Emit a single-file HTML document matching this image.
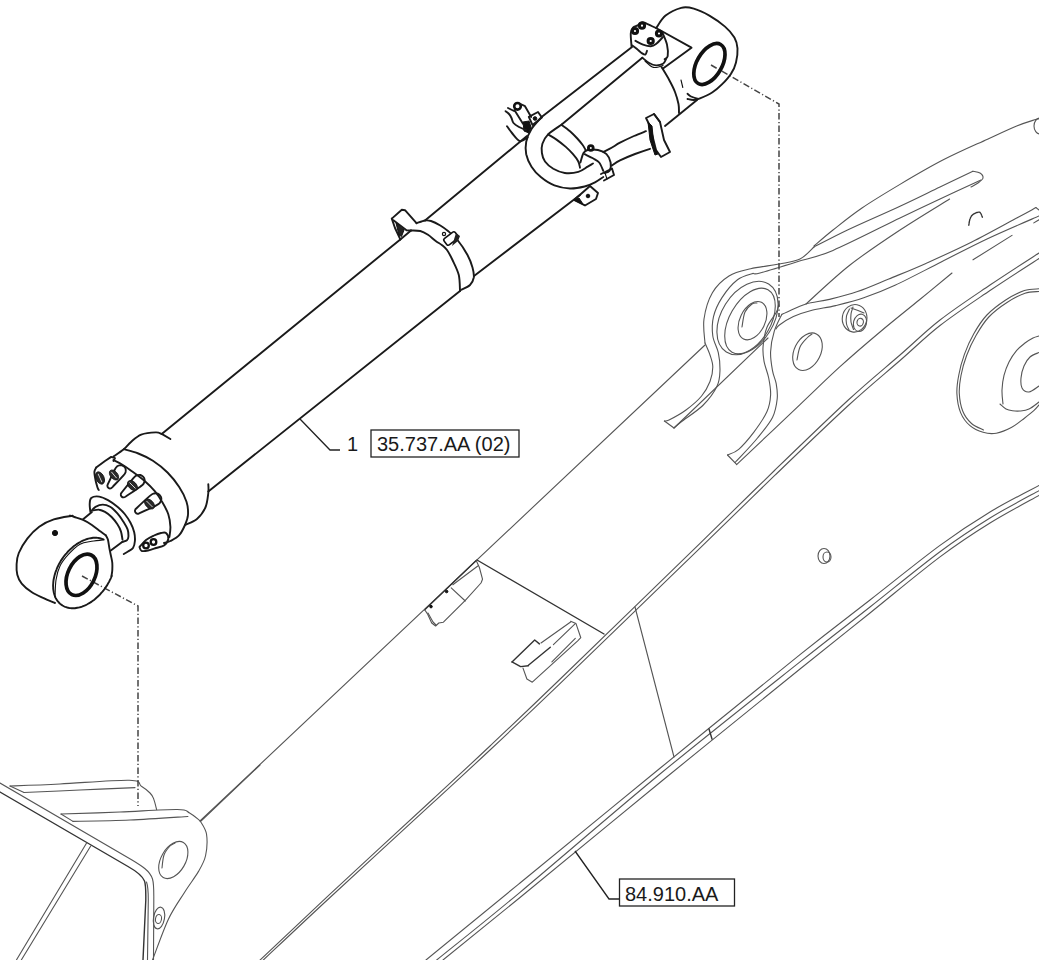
<!DOCTYPE html>
<html><head><meta charset="utf-8"><style>
html,body{margin:0;padding:0;background:#fff;}
body{width:1039px;height:960px;overflow:hidden;position:relative;}
svg{position:absolute;left:0;top:0;}
.c{fill:none;stroke:#1a1a1a;stroke-width:1.9;stroke-linejoin:round;stroke-linecap:round;}
.ct{fill:none;stroke:#111;stroke-width:1.1;stroke-linejoin:round;stroke-linecap:round;}
.ck{fill:none;stroke:#111;stroke-width:3.7;}
.cf{fill:#111;stroke:#111;stroke-width:1;}
.b{fill:none;stroke:#555;stroke-width:1.1;stroke-linejoin:round;stroke-linecap:round;}
.bd{fill:none;stroke:#333;stroke-width:1.4;stroke-linejoin:round;stroke-linecap:round;}
.dd{fill:none;stroke:#444;stroke-width:1.5;stroke-dasharray:6.5 2.4 1.2 2.4;}
.ld{fill:none;stroke:#222;stroke-width:1.3;}
.bx{fill:none;stroke:#222;stroke-width:1.3;}
.t{font-family:"Liberation Sans",sans-serif;font-size:20px;fill:#1a1a1a;}
</style></head><body>
<svg width="1039" height="960" viewBox="0 0 1039 960">
<path class="b" d="M200,821 L705,345"/>
<path class="b" d="M258,962 C270,950.7 300.8,921.4 330,894.2 C359.2,867 406.3,823.7 433,799 C459.7,774.3 469,765.8 490,746 C511,726.2 524.2,713.8 559.2,680 C594.2,646.2 664,578.3 700,543.3 C736,508.3 750.3,493.9 775,470 C799.7,446.1 827.5,419.2 848.3,400 C869.1,380.8 884.7,368.3 900,355 C915.3,341.7 925,331.7 940,320 C955,308.3 973.5,296.2 990,285 C1006.5,273.8 1030.8,258.3 1039,253"/>
<path class="b" d="M258,965 C270,953.8 300.8,924.5 330,897.5 C359.2,870.5 406.3,827.3 433,802.7 C459.7,778.1 469,769.7 490,750 C511,730.3 524.2,717.9 559.2,684.3 C594.2,650.7 664,583.1 700,548.2 C736,513.4 750.3,499 775,475.2 C799.7,451.4 827.5,424.6 848.3,405.5 C869.1,386.4 884.7,373.8 900,360.5 C915.3,347.2 925,337.2 940,325.5 C955,313.8 973.5,301.7 990,290.5 C1006.5,279.3 1030.8,263.8 1039,258.5"/>
<path class="bd" d="M477,560 L604,634"/>
<path class="b" d="M635,607 L674,757"/>
<path class="b" d="M426,960 C441.7,947.2 481,915 520,883 C559,851 613.3,806.4 660,768.3 C706.7,730.2 765,682.6 800,654.6 C835,626.6 846.7,618.2 870,600 C893.3,581.8 920,560.1 940,545.4 C960,530.7 973.5,522 990,512 C1006.5,502 1030.8,489.9 1039,485.5"/>
<path class="b" d="M436.7,960 C450.6,948.7 482.8,923.3 520,892.3 C557.2,861.3 613.3,812.4 660,774 C706.7,735.6 765,689.7 800,661.9 C835,634.1 846.7,625.4 870,607 C893.3,588.6 920,566.5 940,551.7 C960,536.9 973.5,528.2 990,518 C1006.5,507.8 1030.8,495.2 1039,490.7"/>
<path class="b" d="M443,960 C455.8,949.6 483.3,927.5 520,897.5 C556.7,867.5 616.3,818.1 663,780 C709.7,741.9 765.5,696.8 800,669 C834.5,641.2 846.7,631.7 870,613 C893.3,594.3 920,571.9 940,556.9 C960,541.9 973.5,533.2 990,523 C1006.5,512.8 1030.8,500 1039,495.4"/>
<path class="bd" d="M709,729 L712,739"/>
<path class="b" d="M705,343 C704.8,339 702.8,327.4 704,319 C705.2,310.6 708.2,300 712.4,292.8 C716.6,285.6 722.6,280 729,276 C735.4,272 742.3,270.8 750.7,268.8 C759.1,266.8 771.3,265.6 779.5,264 C787.7,262.4 794.2,261.8 800,259 C805.8,256.2 811.7,249 814,247"/>
<path class="b" d="M705,343 C705.8,345 708.7,351 710,355 C711.3,359 712.8,362.6 712.8,367 C712.8,371.4 711.9,376.7 710,381.5 C708.1,386.3 705.6,391.2 701.6,396 C697.6,400.8 691.4,406 686,410 C680.6,414 672.6,418.2 669,420 C665.4,421.8 665.2,420.8 664.4,421"/>
<path class="b" d="M753,273.4 C750.4,274.4 742.7,275.7 737.5,279.7 C732.3,283.7 726,291.4 722,297.6 C718,303.8 715,310.3 713.5,316.7 C712,323.1 712,330 712.8,336 C713.6,342 717.1,347.1 718.3,352.7 C719.5,358.3 720.2,363.9 720,369.5 C719.8,375.1 719.9,380.3 717,386.3 C714.1,392.3 708.8,399.6 702.8,405.5 C696.8,411.4 685.8,418.2 681,422 C676.2,425.8 675.2,427 674,428"/>
<path class="b" d="M664.4,421 L674,428"/>
<path class="b" d="M768,338 L674,428"/>
<ellipse class="b" cx="747.5" cy="318" rx="26" ry="40" transform="rotate(32 747.5 318)"/>
<ellipse class="b" cx="750" cy="321" rx="20.5" ry="36" transform="rotate(30 750 321)"/>
<ellipse class="b" cx="752.5" cy="320.7" rx="12.6" ry="20.4" transform="rotate(26 752.5 320.7)"/>
<path class="b" d="M742,327 C742.5,324.5 743.3,315.8 745,312 C746.7,308.2 750,305.5 752,304 C754,302.5 756.2,303.2 757,303"/>
<path class="b" d="M814,246 C817.2,243.3 825,236.3 833,230 C841,223.7 850.8,215.6 862,208 C873.2,200.4 886.4,192.5 900,184.4 C913.6,176.3 929.2,167.1 943.8,159.6 C958.3,152.1 975.3,144.8 987.5,139.2 C999.7,133.6 1008.7,129.3 1016.7,126 C1024.7,122.7 1031.9,120.7 1035.6,119.5 C1039.3,118.3 1038.4,119.1 1039,119"/>
<ellipse class="b" cx="1040" cy="126" rx="6" ry="8" transform="rotate(0 1040 126)"/>
<path class="b" d="M814,247 C819.6,244.2 833.2,236.8 847.5,230 C861.8,223.2 884.6,213.4 900,206.2 C915.4,199.1 927.9,192.8 940,187 C952.1,181.2 967.4,173.9 972.9,171.2"/>
<path class="b" d="M972.9,171.2 C974.1,171.5 978.3,171.9 980,173 C981.7,174.1 983.3,176.3 983,178 C982.7,179.7 980,181.5 978,183 C976,184.5 972.2,186.3 971,187"/>
<path class="b" d="M753,273.4 C754.2,273.3 752.8,274.9 760,273 C767.2,271.1 784.3,265.8 796.5,262 C808.7,258.2 815.8,257.7 833,250.4 C850.2,243.1 882.2,226.6 900,218 C917.8,209.4 926.5,205.3 940,199 C953.5,192.7 974.2,183.2 981,180"/>
<path class="b" d="M806,304 C813.3,297.5 834.3,277.3 850,265 C865.7,252.7 883.4,241 900,230 C916.6,219 941.3,204.2 949.6,199"/>
<path class="bd" d="M968.8,225.2 C969,224.2 969.3,220.8 970,219 C970.7,217.2 971.4,215.6 973,214.5 C974.6,213.4 977.9,211.7 979.5,212.2 C981.1,212.7 982,216.6 982.5,217.5" stroke-width="2" stroke-dasharray="1.5 0.8"/>
<path class="b" d="M781.8,314.4 C782.7,314 783.2,313.6 787.2,311.9 C791.2,310.2 799,306.1 806,304 C813,301.9 820.8,301.5 829.4,299.4 C838,297.3 847.6,295 857.5,291.6 C867.4,288.2 877.4,283.7 888.8,279 C900.1,274.3 912.1,269.6 925.9,263.4 C939.7,257.2 956.5,249.7 971.8,242 C987.1,234.3 1007,223.2 1017.7,217.5 C1028.4,211.8 1033,209.2 1036,207.6"/>
<path class="b" d="M1036,207.6 L1039,210"/>
<path class="b" d="M1033.8,222.9 L1039,219.8"/>
<path class="b" d="M776,329 C776.6,328.3 776.5,327.1 779.4,325 C782.3,322.9 788,319.1 793.4,316.6 C798.8,314.2 805,312.1 812,310.3 C819,308.5 827,307.7 835.6,305.6 C844.2,303.5 853.9,301.2 863.8,297.8 C873.6,294.4 882.1,291.3 895,285.3 C907.9,279.3 925.9,269.7 941.2,262 C956.5,254.3 970.7,246.7 987,239 C1003.3,231.3 1030.3,219.8 1039,216"/>
<path class="b" d="M973,259.8 L1012,235.4"/>
<path class="b" d="M779,305 C778.5,306.2 778.2,308.8 776.2,312.5 C774.2,316.2 769.1,321.9 766.9,327.5 C764.7,333.1 763.6,340.6 763.1,346.2 C762.6,351.8 763.1,355.9 764,361.2 C764.9,366.5 767.6,372.4 768.7,378 C769.8,383.6 770.9,389.4 770.6,395 C770.3,400.6 769.7,405.6 766.9,411.8 C764.1,418 758.4,426.1 753.7,432.4 C749,438.6 743.1,445.5 738.7,449.3 C734.3,453.1 729.4,454.1 727.5,455"/>
<path class="b" d="M781.8,314.4 C780.5,317.2 776.2,325 774.3,331.2 C772.4,337.4 770.9,345.2 770.6,351.8 C770.3,358.4 771.6,365.3 772.5,370.6 C773.4,375.9 775.4,379 776.2,383.7 C777,388.4 777.8,393.1 777.2,398.7 C776.6,404.3 775.8,410.8 772.5,417.4 C769.2,423.9 763.1,431.1 757.5,438 C751.9,444.9 742.5,454.6 738.7,458.7 C735,462.8 735.6,461.8 735,462.4"/>
<path class="b" d="M727.5,455 L736.6,464.4"/>
<path class="b" d="M736.6,464.6 C747.2,454.6 782.8,420.9 800,404.6 C817.2,388.3 826.7,378.8 840,366.7 C853.3,354.6 866.8,343.1 880,332 C893.2,320.9 907.2,309.8 919.2,300 C931.2,290.2 946.5,277.5 952,273"/>
<ellipse class="b" cx="807.5" cy="351.7" rx="13.2" ry="19.9" transform="rotate(26.5 807.5 351.7)"/>
<path class="b" d="M797,360 C797.5,357.8 798.3,350.7 800,347 C801.7,343.3 805,340.2 807,338 C809,335.8 811.2,334.7 812,334"/>
<ellipse class="b" cx="854.6" cy="318.3" rx="12.3" ry="13.8" transform="rotate(10 854.6 318.3)"/>
<ellipse class="b" cx="860" cy="322.8" rx="6.5" ry="8.8" transform="rotate(15 860 322.8)"/>
<ellipse class="b" cx="860.2" cy="322.2" rx="3.2" ry="3.9" transform="rotate(10 860.2 322.2)"/>
<path class="b" d="M849.5,309 C849,310.2 847,313.5 846.5,316 C846,318.5 846.1,321.7 846.5,324 C846.9,326.3 848.6,329 849,330"/>
<path class="b" d="M853,307 C852.7,308.2 851.3,311.5 851,314 C850.7,316.5 850.6,319.4 851,322 C851.4,324.6 853.1,328.2 853.5,329.5"/>
<path class="b" d="M851,308 L858,310.5 L864,313"/>
<path class="b" d="M1039,288.8 C1036.6,289.1 1030,288.7 1024.4,290.6 C1018.9,292.5 1012,295.9 1005.7,300 C999.5,304.1 992.2,309.4 986.9,315 C981.6,320.6 977.5,327.2 973.8,333.8 C970,340.4 966.9,347.5 964.4,354.4 C961.9,361.3 960,368.4 958.8,375 C957.5,381.6 956.6,387.5 956.9,393.8 C957.2,400.1 958.4,407.3 960.6,412.6 C962.8,417.9 966.2,422.4 970,425.7 C973.8,429 978.7,431.1 983.1,432.3 C987.5,433.6 991.6,434 996.3,433.2 C1001,432.4 1006.6,430.1 1011.3,427.6 C1016,425.1 1020.7,421 1024.4,418.2 C1028.2,415.4 1031.4,412.9 1033.8,410.7 C1036.2,408.5 1038.1,405.9 1039,405"/>
<path class="b" d="M1039,291.5 C1036.7,291.8 1030.3,291.5 1025,293.3 C1019.7,295.1 1013,298.6 1007,302.5 C1001,306.4 994,311.5 988.8,317 C983.6,322.5 979.7,329.1 976,335.5 C972.3,341.9 969.1,348.8 966.6,355.5 C964.1,362.2 962.2,369.2 961,375.5 C959.8,381.8 959,387.5 959.3,393.5 C959.6,399.5 960.8,406.3 962.8,411.3 C964.8,416.3 968,420.4 971.5,423.5 C975,426.6 981.5,428.9 983.5,430"/>
<path class="b" d="M1003,404 C1002.8,401.7 1001.8,394.8 1002,390 C1002.2,385.2 1002.8,380.1 1004,375.4 C1005.2,370.7 1006.9,366.2 1009,362 C1011.1,357.8 1014,353.6 1016.7,350.4 C1019.4,347.2 1022.3,345.1 1025,343 C1027.7,340.9 1030.7,339.2 1033,338 C1035.3,336.8 1038,336.3 1039,336"/>
<path class="b" d="M1000,404 C1001,404.8 1003.9,407.9 1006,409 C1008.1,410.1 1010.2,410.5 1012.5,410.8 C1014.8,411.1 1017.2,411.3 1020,411 C1022.8,410.7 1025.8,410.5 1029,409 C1032.2,407.5 1037.3,403.2 1039,402"/>
<path class="b" d="M1039,352.5 C1037.5,353.2 1032.5,354.8 1030,357 C1027.5,359.2 1025.5,362.5 1024,366 C1022.5,369.5 1021.3,374.3 1021,378 C1020.7,381.7 1020.7,385.7 1022,388 C1023.3,390.3 1026.2,392.3 1029,392 C1031.8,391.7 1037.3,387 1039,386"/>
<ellipse class="b" cx="824" cy="556" rx="6" ry="7.5" transform="rotate(0 824 556)"/>
<ellipse class="b" cx="827" cy="557" rx="4" ry="5" transform="rotate(0 827 557)"/>
<path class="bd" d="M424.7,609.7 L476.2,560.5"/>
<path class="b" d="M476.2,560.5 L479.4,567.5 L482.5,579.2 L481,583 L465.3,600.3 L443.4,622.2 L438.8,623 L435.6,626 L431.7,623 L427.8,614.4 L424.7,609.7"/>
<path class="b" d="M451.2,587.8 L465.3,601"/>
<path class="b" d="M452.8,584.7 L477.8,566"/>
<path class="b" d="M428,613 L433,622 L436,625"/>
<circle class="cf" cx="446.6" cy="591.5" r="1.3"/>
<circle class="cf" cx="431" cy="606.6" r="1.3"/>
<path class="bd" d="M512,661.9 L534.7,640 L539.4,643.9"/>
<path class="bd" d="M512,661.9 L520.6,666.6 L528.4,665.8"/>
<path class="bd" d="M528.4,665.3 L550.3,647.3"/>
<path class="b" d="M541,643 L570.6,622"/>
<path class="b" d="M553.4,644.7 L575.3,623.6"/>
<path class="b" d="M570.6,621.2 L576,623.6 L580.8,637.7 L577.7,640.8 L532.3,682.2 L526.9,679 L523,668.1"/>
<path class="b" d="M551.9,661.9 L575.3,638.4"/>
<path class="b" d="M201,821 L260,765"/>
<path class="b" d="M10,786 C18.3,785.7 40.1,785 60,784 C79.9,783 115.7,779.8 129.3,780.2 C142.9,780.6 138,784.2 141.4,786.3 C144.8,788.4 148,791 150,793 C152,795 152.4,795.6 153.5,798.4 C154.6,801.1 156.1,807.6 156.6,809.5"/>
<path class="b" d="M24,792.5 C33.3,792.1 61.5,790.8 80,790 C98.5,789.2 125.8,788 135,787.6"/>
<path class="b" d="M10,786 L24,792.5"/>
<path class="b" d="M61,814 C70.8,813.7 100.6,812.8 120,812 C139.4,811.2 165.7,809.3 177.3,809.5 C188.9,809.7 185.8,811.1 189.6,813 C193.4,814.9 198.5,819.7 200.3,821"/>
<path class="b" d="M73,821.4 C82.5,821.2 110.8,820.8 130,820 C149.2,819.2 178.2,817.1 187.9,816.5"/>
<path class="b" d="M61,814 L73,821.4"/>
<path class="b" d="M200.3,821 C201.3,823.2 205.6,828.2 206.5,834 C207.4,839.8 206.9,849.3 205.6,855.5 C204.3,861.7 202.1,865.2 198.5,871.4 C194.9,877.6 189.3,884.7 184.3,892.7 C179.3,900.7 173.7,908 168.4,919.2 C163.1,930.4 155.2,953.2 152.5,960"/>
<ellipse class="b" cx="173.3" cy="860" rx="12.2" ry="20.2" transform="rotate(30 173.3 860)"/>
<path class="b" d="M162,868 C162.3,865.8 162.7,858.7 164,855 C165.3,851.3 168.2,848 170,846 C171.8,844 174.2,843.5 175,843"/>
<path class="b" d="M0,783 L132,860 C142,866 150,871 152.5,879 C154,884 153.8,890 153.8,900 L153.5,960"/>
<path class="bd" d="M0,792 L128,866.5 C136,871 142,875 144.5,881 C146,885 145.8,890 145.8,900 L143,960"/>
<path class="b" d="M146.5,882 C148,886 148.3,892 148.3,900 L147.5,960"/>
<path class="b" d="M86.6,843 L16.4,960"/>
<path class="b" d="M90.7,846 L21.3,960"/>
<ellipse class="b" cx="159" cy="918" rx="5.5" ry="11" transform="rotate(10 159 918)"/>
<ellipse class="b" cx="158.5" cy="919" rx="3" ry="4.5" transform="rotate(10 158.5 919)"/>
<path class="dd" d="M711,65 L779,104 L779,317"/>
<path class="dd" d="M82,576 L138,606 L138,806"/>
<path class="c" d="M72.7,515.7 C69.5,516.3 59.4,517.6 53.8,519.4 C48.2,521.2 43.6,523.5 39.2,526.7 C34.8,529.9 30.9,534 27.5,538.4 C24.1,542.8 20.6,548.6 18.8,553 C16.9,557.4 16.8,561 16.6,564.6 C16.4,568.2 16.5,571.6 17.3,574.8 C18.1,578 19.3,580.7 21.7,583.6 C24.1,586.5 28.2,589.9 31.9,592.3 C35.5,594.7 39.8,596.4 43.6,598.2 C47.5,600 53.1,602.2 55,603"/>
<path class="c" d="M70,515.5 C70.7,515.8 72.2,516.3 74.4,517 C76.6,517.7 80.2,518.6 83.1,519.9 C86,521.2 89,523 91.9,525 C94.8,527 98.3,529.9 100.6,531.6 C102.9,533.3 104.8,534.6 105.7,535.2" stroke-width="2.2"/>
<path class="c" d="M111.7,575.9 L111.2,577.3 L110.6,578.7 L109.9,580 L109.3,581.4 L108.5,582.7 L107.8,584.1 L107,585.4 L106.2,586.6 L105.3,587.9 L104.4,589.2 L103.5,590.4 L102.5,591.6 L101.5,592.7 L100.5,593.9 L99.5,595 L98.4,596 L97.3,597.1 L96.2,598 L95.1,599 L94,599.9 L92.8,600.8 L91.7,601.6 L90.5,602.4 L89.3,603.1 L88.1,603.8 L86.9,604.5 L85.7,605.1 L84.5,605.6 L83.2,606.1 L82,606.6 L80.8,607 L79.6,607.3 L78.4,607.6 L77.2,607.8 L76.1,608 L74.9,608.2 L73.7,608.2 L72.6,608.3 L71.5,608.2 L70.4,608.1 L69.3,608 L68.3,607.8 L67.2,607.5 L66.2,607.2 L65.2,606.9 L64.3,606.5 L63.4,606 L62.5,605.5 L61.6,604.9 L60.8,604.3 L60,603.7 L59.3,603 L58.6,602.2 L57.9,601.4 L57.3,600.6 L56.7,599.7 L56.1,598.8 L55.6,597.8 L55.2,596.8 L54.8,595.8 L54.4,594.7 L54.1,593.6 L53.8,592.4 L53.6,591.3 L53.4,590.1 L53.2,588.9 L53.2,587.6 L53.1,586.3 L53.1,585 L53.2,583.7 L53.3,582.4 L53.4,581.1 L53.6,579.7 L53.9,578.3 L54.2,577 L54.5,575.6 L54.9,574.2 L55.3,572.8 L55.8,571.4 L56.3,570.1 L56.8,568.7 L57.4,567.3 L58.1,566 L58.7,564.6 L59.5,563.3 L60.2,561.9 L61,560.6 L61.8,559.4 L62.7,558.1 L63.6,556.8 L64.5,555.6 L65.5,554.4 L66.5,553.3 L67.5,552.1 L68.5,551 L69.6,550 L70.7,548.9 L71.8,548 L72.9,547 L74,546.1 L75.2,545.2 L76.3,544.4 L77.5,543.6 L78.7,542.9 L79.9,542.2 L81.1,541.5 L82.3,540.9 L83.5,540.4 L84.8,539.9 L86,539.4 L87.2,539 L88.4,538.7 L89.6,538.4 L90.8,538.2 L91.9,538 L93.1,537.8 L94.3,537.8 L95.4,537.7 L96.5,537.8 L97.6,537.9 L98.7,538 L99.7,538.2 L100.8,538.5 L101.8,538.8 L102.8,539.1 L103.7,539.5"/>
<path class="ct" d="M55,597 C55.2,594.2 55.2,585.2 56,580 C56.8,574.8 57.9,570.3 60,566 C62.1,561.7 65.1,558 68.4,554.4 C71.7,550.8 76.1,546.4 80,544.2 C83.9,542 87.8,542 91.7,541.3 C95.6,540.6 101.5,540 103.4,539.8"/>
<ellipse class="ck" cx="81.5" cy="574.8" rx="13.5" ry="22" transform="rotate(26 81.5 574.8)"/>
<circle class="cf" cx="55" cy="533" r="2.6"/>
<path class="c" d="M105.7,535.2 C106.1,535.9 107.3,537.4 107.9,539.6 C108.5,541.8 108.9,545.7 109.4,548.4 C109.9,551.1 110.5,553.6 111,556 C111.5,558.4 112.1,560.7 112.3,563 C112.5,565.3 112.4,567.8 112.3,570 C112.2,572.2 111.6,575 111.5,576"/>
<path class="c" d="M83.1,519.2 L91.9,511.9"/>
<path class="c" d="M110.8,550.5 L122.5,541.8"/>
<path class="c" d="M91.9,510.4 C92.5,509.8 93.7,507.8 95.5,506.8 C97.3,505.8 100.4,504.6 102.8,504.6 C105.2,504.6 107.7,505.4 110.1,506.8 C112.5,508.2 115.2,510.9 117.4,513.3 C119.6,515.7 121.5,518.7 123.2,521.4 C124.9,524.1 126.7,526.8 127.6,529.4 C128.5,532 128.5,534.9 128.4,536.7 C128.3,538.5 127.9,539.4 126.9,540.3 C125.9,541.1 123.2,541.5 122.5,541.8"/>
<path class="c" d="M93.3,510.4 C94.3,510.3 97.2,509.4 99.2,509.7 C101.2,509.9 102.9,510.7 105,511.9 C107.1,513.1 109.5,514.9 111.6,517 C113.7,519.1 115.8,521.9 117.4,524.3 C119,526.7 120.2,529 121,531.6 C121.8,534.2 122.2,538.3 122.5,539.6"/>
<path class="c" d="M90.4,511.9 C90.3,510.7 89.6,506.9 89.7,504.6 C89.8,502.3 89.6,499.3 91.2,498 C92.8,496.7 96.4,496.2 99.2,496.6 C102,497 105,498.5 108,500.2 C111,501.9 114.6,504.5 117.4,506.8 C120.2,509.1 122.5,511.3 124.7,514 C126.9,516.7 128.9,519.8 130.5,522.8 C132.1,525.8 133.5,529.3 134.2,532.3 C134.9,535.3 135.1,538.4 134.9,541 C134.7,543.6 134.2,546.2 133,548 C131.8,549.8 129.5,550.5 128,551.5 C126.5,552.5 124.5,553.6 123.8,554"/>
<path class="c" d="M121.5,496.5 C121,496 120.7,495 120.8,494.2 C120.9,493.5 120.1,494.6 122.1,492 C124.2,489.3 130.8,481.1 133.2,478.3 C135.6,475.6 135.4,476 136.7,475.4 C137.9,474.9 139.4,474.8 140.4,475 C141.5,475.2 142.4,476 143.1,476.7 C143.8,477.5 144.5,478.5 144.6,479.6 C144.7,480.7 144.5,482.1 143.8,483.3 C143.2,484.4 143.6,484.3 140.6,486.4 C137.7,488.6 128.9,494.4 126.1,496.3 C123.2,498.1 124.4,497.4 123.7,497.4 C122.9,497.4 122,497 121.5,496.5Z"/>
<path class="c" d="M135.5,512.5 C135.1,511.9 134.9,510.8 135.1,510.1 C135.3,509.3 134.4,510.3 136.8,508 C139.3,505.6 147.1,498.3 149.9,495.9 C152.8,493.5 152.5,493.8 153.9,493.5 C155.2,493.1 156.7,493.2 157.8,493.6 C158.9,494 159.7,494.9 160.3,495.8 C160.9,496.6 161.4,497.7 161.4,498.9 C161.3,500 160.9,501.5 160,502.6 C159.2,503.7 159.6,503.6 156.3,505.3 C153,507.1 143.3,511.5 140.2,512.9 C137.1,514.3 138.4,513.8 137.6,513.8 C136.8,513.7 135.9,513.1 135.5,512.5Z"/>
<path class="c" d="M108.5,488 C107.9,487.6 107.4,486.8 107.4,486.1 C107.3,485.3 106.9,486.4 108.1,483.7 C109.4,481 113.2,472.6 114.7,469.7 C116.2,466.9 116.3,467.1 117.2,466.3 C118.2,465.6 119.6,465.2 120.6,465.1 C121.7,465.1 122.7,465.6 123.5,466.1 C124.3,466.7 125.1,467.4 125.5,468.4 C125.8,469.4 125.9,470.8 125.6,472 C125.2,473.2 125.4,473.2 123.3,475.6 C121.1,478.1 114.7,484.7 112.7,486.8 C110.6,488.9 111.4,488.2 110.7,488.4 C110,488.6 109.1,488.4 108.5,488Z"/>
<ellipse cx="132.5" cy="485.5" rx="6" ry="3.8" transform="rotate(45 132.5 485.5)" fill="#2a2a2a" stroke="#111" stroke-width="0.8"/>
<line x1="128.3" y1="485.5" x2="136.7" y2="485.5" stroke="#ddd" stroke-width="0.9" transform="rotate(45 132.5 485.5)"/>
<ellipse cx="149.5" cy="504" rx="6" ry="3.8" transform="rotate(45 149.5 504)" fill="#2a2a2a" stroke="#111" stroke-width="0.8"/>
<line x1="145.3" y1="504" x2="153.7" y2="504" stroke="#ddd" stroke-width="0.9" transform="rotate(45 149.5 504)"/>
<ellipse cx="114" cy="475" rx="5.8" ry="3.6" transform="rotate(50 114 475)" fill="#2a2a2a" stroke="#111" stroke-width="0.8"/>
<line x1="109.94" y1="475" x2="118.06" y2="475" stroke="#ddd" stroke-width="0.9" transform="rotate(50 114 475)"/>
<ellipse cx="100" cy="478" rx="6.5" ry="4" transform="rotate(65 100 478)" fill="#2a2a2a" stroke="#111" stroke-width="0.8"/>
<line x1="95.45" y1="478" x2="104.55" y2="478" stroke="#ddd" stroke-width="0.9" transform="rotate(65 100 478)"/>
<path class="c" d="M96.2,467.5 L105,461 L111.2,456.9 L115,458.1 L113.5,461"/>
<path class="c" d="M96.2,467.5 C95.9,468.2 94.5,469.8 94.4,471.9 C94.3,474 95,477.4 95.5,480 C96,482.6 97,485.8 97.5,487.5 C98,489.2 98.5,489.6 98.8,490"/>
<path class="c" d="M113.5,460 C114.9,460.8 119.1,462.8 122,464.5 C124.9,466.2 127.1,467.7 130.8,470.4 C134.5,473.1 140.4,477.3 144.4,480.8 C148.4,484.3 151.9,487.8 154.8,491.2 C157.7,494.7 159.8,497.9 162,501.7 C164.2,505.5 166.9,510 168.3,514.2 C169.7,518.4 170.2,522.9 170.4,526.7 C170.6,530.5 169.6,535.3 169.4,537"/>
<path class="c" d="M139.5,547 C140.6,545.8 143.6,541.9 146,540 C148.4,538.1 151.5,536.7 154,535.5 C156.5,534.3 159,533.4 161,533 C163,532.6 164.8,532 166,533 C167.2,534 168.6,536.9 168.3,539 C168,541.1 166.1,543.9 164,545.4 C161.9,546.9 158.7,547.1 156,548 C153.3,548.9 150.4,550 148,550.5 C145.6,551 142.9,551.4 141.5,550.8 C140.1,550.2 139.8,547.6 139.5,547"/>
<circle cx="146" cy="545.5" r="2.8" fill="#fff" stroke="#111" stroke-width="2.3"/>
<circle cx="153.5" cy="542" r="2.8" fill="#fff" stroke="#111" stroke-width="2.3"/>
<path class="c" d="M113.5,456.5 C115.2,455.3 120.8,451.6 123.8,449.2 C126.7,446.8 128.1,444.3 131,441.9 C133.9,439.5 137.1,436.2 141.2,434.6 C145.4,433 152.4,432.5 155.8,432.4 C159.2,432.3 160.7,433.6 161.7,433.9"/>
<path class="c" d="M123.8,449.2 C126.2,449.9 133.4,451.6 138.3,453.5 C143.2,455.4 148,457.6 152.9,460.8 C157.8,464 163.1,468.1 167.5,472.5 C171.9,476.9 176,482.1 179.2,487 C182.4,491.9 185,497.1 186.5,501.7 C188,506.3 188.2,510.9 188,514.8 C187.8,518.7 186.5,521.6 185,525 C183.5,528.4 181.6,532.5 179.2,535.2 C176.8,537.9 172.9,539.7 170.4,541 C167.9,542.3 165.1,542.7 164,543"/>
<path class="c" d="M208.3,484.2 C208.3,485.7 208.8,489.1 208.3,493 C207.8,496.9 207.3,503.1 205.4,507.5 C203.5,511.9 200.1,516.3 196.7,519.2 C193.3,522.1 186.9,524 185,525"/>
<path class="c" d="M161.7,433.9 L170.4,439"/>
<path class="c" d="M161.7,433.9 L400.3,239.4"/>
<path class="c" d="M425,220.5 L527,136"/>
<path class="c" d="M208.3,491.5 L460,291"/>
<path class="c" d="M474,276 L580,195"/>
<path class="c" d="M665,126 L697,100"/>
<path class="c" d="M411,230.5 C412.6,230.6 417.5,230.3 420.3,231 C423.1,231.7 425.4,233.1 428,234.8 C430.6,236.5 433.4,239.3 435.7,241 C438,242.7 439.9,243.5 441.8,245 C443.7,246.5 445.2,247.5 447,250 C448.8,252.5 450.5,255.8 452.5,260 C454.5,264.2 457.5,269.8 458.8,275 C460,280.2 459.8,288.3 460,291"/>
<path class="c" d="M416.5,223.2 C417.9,222.8 422.6,220.9 425,220.5 C427.4,220.1 428.4,220.2 431,221 C433.6,221.8 437.5,223.8 440.3,225.5 C443.1,227.2 445.1,228.6 448,231 C450.9,233.4 454.2,236 457.5,240 C460.8,244 465,250.4 467.5,255 C470,259.6 471.5,263.8 472.5,267.5 C473.5,271.2 474.2,274.6 473.8,277.5 C473.3,280.4 472.1,282.9 470,285 C467.9,287.1 462.5,289.2 461,290"/>
<rect x="444" y="234.5" width="14" height="8" rx="2" transform="rotate(-38 451 238.5)" fill="#fff" stroke="#111" stroke-width="1.6"/>
<path d="M452,246 L458,241 L460,236 L456,233 Z" fill="#222"/>
<circle cx="444" cy="234" r="1.6" fill="none" stroke="#111" stroke-width="1.2"/>
<path class="c" d="M391.8,218.6 L401.8,209.8 L405,210.2 L416.5,223.2"/>
<path class="c" d="M391.8,218.6 L395,228 L400.3,239.4"/>
<path class="c" d="M393.4,220.2 L406.5,230.2 L411,230.5"/>
<path class="c" d="M400.3,239.4 L411,230.5"/>
<path d="M396,223 L404,230 L401.5,236.5 L399,235 Z" fill="#222" stroke="#111" stroke-width="1"/>
<circle cx="517.5" cy="106.3" r="3.3" fill="none" stroke="#111" stroke-width="2.6"/>
<path class="c" d="M514.4,110 L523,123.8"/>
<path class="c" d="M520.5,104 L525,106.2 L531.2,116.9"/>
<path class="c" d="M528.8,116.9 L538,112 L541.9,117.5 L532.5,125 L528.8,116.9"/>
<circle class="cf" cx="535" cy="118.5" r="1.8"/>
<path class="cf" d="M523,122 L529,121 L531,127 L529,133 L524,131Z"/>
<path class="c" d="M505.6,111.2 C506.2,111.7 508,112.9 509,114 C510,115.1 510.8,116.5 511.5,118 C512.2,119.5 512.2,121.5 513.5,123 C514.8,124.5 516.9,125.8 519,127 C521.1,128.2 524.8,129.5 526,130"/>
<path class="c" d="M507,126.2 C507.8,127.4 509.8,130.5 512,133 C514.2,135.5 517.4,140.5 520,141.2 C522.6,142 526.2,138.1 527.5,137.5"/>
<path class="c" d="M508,108 L514,111"/>
<path class="c" d="M541.9,116.7 C540.2,118.8 534.1,124.8 531.5,129 C528.9,133.2 527.1,137.5 526.2,141.7 C525.4,145.9 525.4,150 526.2,154.2 C527.1,158.4 529.1,162.9 531.5,166.7 C533.9,170.5 537,173.9 540.8,177 C544.6,180.1 549.5,183.5 554.4,185.4 C559.3,187.3 565,188.3 570,188.5 C575,188.7 580.4,187.5 584.6,186.5 C588.8,185.5 591.9,183.9 595,182.3 C598.1,180.7 601.9,177.9 603.3,177"/>
<path class="c" d="M561.7,124.5 C559.4,126.2 551.3,131.2 548.1,134.4 C544.9,137.6 543.4,140.7 542.4,143.8 C541.4,146.8 541.5,150 541.9,153 C542.3,156 543.1,158.9 545,161.5 C546.9,164.1 550,166.8 553.3,168.8 C556.6,170.7 560.6,172.5 564.8,173 C569,173.5 574.5,173 578.3,171.9 C582.1,170.8 585.2,168.1 587.7,166.7 C590.2,165.3 592.1,164 593,163.5"/>
<path class="c" d="M541.9,116.7 L632,47"/>
<path class="c" d="M561.7,124.5 L642.3,57.7"/>
<path class="c" d="M548,134.4 C549.4,135.3 553.5,137.5 556.5,139.6 C559.5,141.7 563,144.5 565.8,146.9 C568.5,149.3 570.9,151.8 573,154.2 C575.1,156.6 577.1,159.2 578.3,161.5 C579.5,163.8 579.7,166.7 580,167.7"/>
<path class="c" d="M561.7,125 C563.1,126 567.4,129 570,131.2 C572.6,133.5 575.2,136.2 577.3,138.5 C579.4,140.8 581.1,142.9 582.5,144.8 C583.9,146.7 585.1,149.1 585.6,150"/>
<path class="c" d="M580.4,162.5 C580.9,160.9 582.3,155.1 583.5,153 C584.7,150.9 585.3,150.5 587.7,150 C590.1,149.5 594.9,149.3 598,150 C601.1,150.7 604.4,152.1 606.5,154.2 C608.6,156.3 610.1,159.7 610.6,162.5 C611.1,165.3 610.6,169.1 609.6,170.8 C608.6,172.5 605.3,172.6 604.4,172.9"/>
<path class="c" d="M584.6,154.2 C586,154.9 590.5,156.9 592.9,158.3 C595.3,159.7 597.5,160.4 599.2,162.5 C600.9,164.6 602.6,169.4 603.3,170.8"/>
<circle cx="590.8" cy="148" r="2.4" fill="#fff" stroke="#111" stroke-width="2.8"/>
<path class="c" d="M601,174 L612,168.5 L614,175 L604,180.5"/>
<path class="ct" d="M605,173 L607,179"/>
<path class="c" d="M603.3,152 C604.8,151.2 609.2,149.1 612,147.5 C614.8,145.9 616.3,144.6 620,142.7 C623.7,140.8 629.7,137.9 634,136 C638.3,134.1 644,132 646,131.2"/>
<path class="c" d="M611.7,165.6 C613.1,164.7 616.1,162.3 620,160.4 C623.9,158.5 630,155.9 635,154 C640,152.1 647.5,149.6 650,148.8"/>
<path class="c" d="M646,118 L654,114 L660,122 L664,140 L670,152 L661,157 L656,150 L650,126 L646,118"/>
<path class="c" d="M654,114 L660,122"/>
<path class="cf" d="M648,122 L652,126 L654,146 L658,154 L655,155 L650,140Z"/>
<path class="c" d="M574,200 L590,186 L598,193 L596,199 L585,205.5 L574,200"/>
<circle class="cf" cx="588" cy="196" r="1.8"/>
<path class="cf" d="M574,200 L579,198 L583,204 L585,205.5Z"/>
<path class="c" d="M631.5,46.2 C631.4,44 630.5,36.1 630.8,33 C631,29.9 631.9,29 633,27.7 C634.1,26.4 636.2,26.3 637.7,25.4 C639.2,24.5 640.8,22.6 642.3,22.3 C643.8,22 644.5,22.8 647,23.8 C649.5,24.8 655.3,27.7 657,28.5"/>
<path class="c" d="M657,28.5 L691.5,47.7 L663,68.5"/>
<path class="c" d="M663,33.8 C663.7,35.6 666.2,40.9 667,44.6 C667.8,48.3 668.1,53.8 667.7,56.2 C667.3,58.6 665.1,58.7 664.6,59.2"/>
<path class="c" d="M635.4,40.8 C636.7,41.4 640.4,43.7 643,44.6 C645.6,45.5 648.6,46.3 650.8,46.2 C653,46.1 654,45.5 656,44 C658,42.5 661.8,38.2 663,37"/>
<path class="c" d="M632.3,45.4 C633.1,46 635.5,47.7 637,49 C638.5,50.3 640.1,52.1 641.5,53 C642.9,53.9 644.5,55 645.4,54.6 C646.3,54.2 646.7,51.4 647,50.8"/>
<path class="c" d="M642.3,57.7 C643.4,58.6 646.9,61.7 649.2,63 C651.5,64.3 653.7,65.3 656,65.4 C658.3,65.5 661.3,64.8 663,63.8 C664.7,62.8 665.5,60 666,59.2"/>
<path class="ct" d="M645,61 C646.2,62 650,66 652.3,67 C654.5,68 656.7,67.3 658.5,67 C660.3,66.7 662.2,65.7 663,65.4"/>
<circle cx="635" cy="31" r="2.6" fill="#fff" stroke="#111" stroke-width="3"/>
<circle cx="642" cy="25.7" r="2.6" fill="#fff" stroke="#111" stroke-width="3"/>
<circle cx="650.7" cy="41" r="2.6" fill="#fff" stroke="#111" stroke-width="3"/>
<circle cx="659" cy="33.5" r="2.6" fill="#fff" stroke="#111" stroke-width="3"/>
<path class="c" d="M661.5,67 C662.8,69.2 667,75.8 669.2,80 C671.5,84.2 673.5,88 675,92 C676.5,96 677.8,100.5 678.5,104 C679.2,107.5 678.9,111.5 679,113"/>
<path class="c" d="M656.2,28 C657.8,25.9 661.4,19 665.6,15.6 C669.8,12.2 676.6,9 681.2,7.8 C685.9,6.6 689.1,7.3 693.8,8.6 C698.4,9.9 704.2,12.6 709.4,15.6 C714.6,18.6 720.8,23 725,26.6 C729.2,30.2 732.3,33.9 734.4,37.5 C736.5,41.1 737.2,44.2 737.5,48.4 C737.8,52.6 737,58.3 736,62.5 C735,66.7 733.6,69.8 731.2,73.4 C728.9,77.1 725,81.3 721.9,84.4 C718.8,87.5 716.1,89.9 712.5,92.2 C708.9,94.5 703.1,97.1 700,98.4 C696.9,99.7 695.8,99.9 693.8,100 C691.7,100.1 688.5,99.2 687.5,99"/>
<path class="c" d="M687.5,93.8 C688.1,94.2 689.4,95.7 691,96.5 C692.6,97.3 696,98.2 697,98.5"/>
<path class="ct" d="M681,80 L682.8,87.5"/>
<ellipse class="ck" cx="709.4" cy="64" rx="12.5" ry="22.5" transform="rotate(30 709.4 64)"/>
<path class="ld" d="M300,419 L330,450 L340,450"/>
<text class="t" x="347" y="451">1</text>
<rect class="bx" x="371" y="430" width="148" height="27"/>
<text class="t" x="377" y="451">35.737.AA (02)</text>
<path class="ld" d="M575,851 L609,899 L619,899"/>
<rect class="bx" x="619.5" y="879" width="115" height="27"/>
<text class="t" x="625" y="900.5">84.910.AA</text>
</svg>
</body></html>
